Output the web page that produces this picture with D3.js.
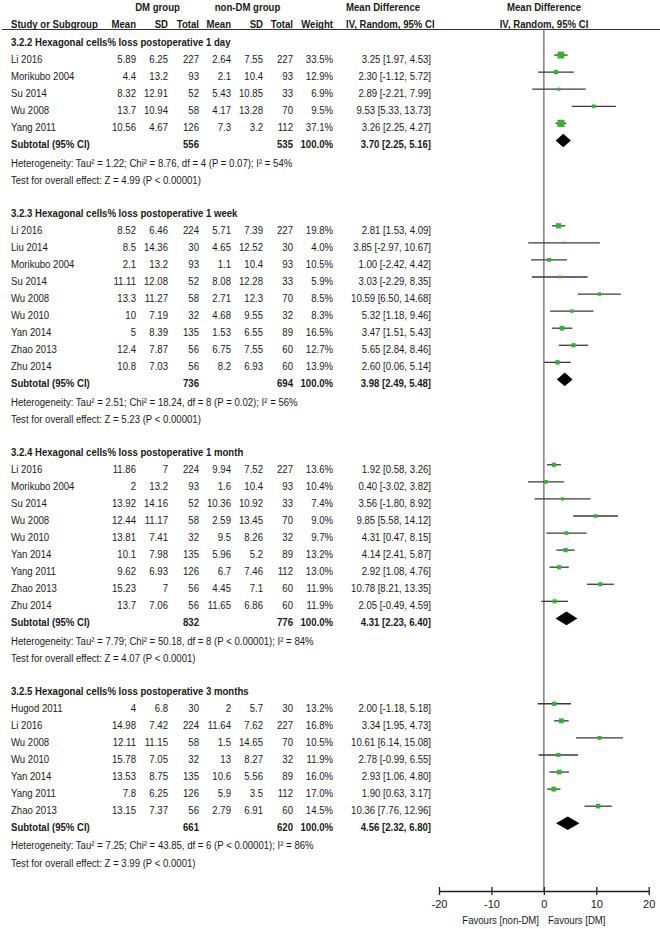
<!DOCTYPE html>
<html><head><meta charset="utf-8">
<script src="https://cdn.jsdelivr.net/npm/d3@7"></script>
<style>body{margin:0;background:#fff}text{font-family:"Liberation Sans",Arial,sans-serif;font-size:11px;fill:#1a1a1a}</style>
</head><body><svg id="c" width="660" height="929"></svg>
<script>
// ---------- data ----------
const subgroupTitles = [
  "3.2.2 Hexagonal cells% loss postoperative 1 day",
  "3.2.3 Hexagonal cells% loss postoperative 1 week",
  "3.2.4 Hexagonal cells% loss postoperative 1 month",
  "3.2.5 Hexagonal cells% loss postoperative 3 months"
];
const studyGroup = [0,0,0,0,0, 1,1,1,1,1,1,1,1,1, 2,2,2,2,2,2,2,2,2, 3,3,3,3,3,3,3];
const studyNames = [
  "Li 2016","Morikubo 2004","Su 2014","Wu 2008","Yang 2011",
  "Li 2016","Liu 2014","Morikubo 2004","Su 2014","Wu 2008","Wu 2010","Yan 2014","Zhao 2013","Zhu 2014",
  "Li 2016","Morikubo 2004","Su 2014","Wu 2008","Wu 2010","Yan 2014","Yang 2011","Zhao 2013","Zhu 2014",
  "Hugod 2011","Li 2016","Wu 2008","Wu 2010","Yan 2014","Yang 2011","Zhao 2013"
];
const dmMean  = [5.89,4.4,8.32,13.7,10.56, 8.52,8.5,2.1,11.11,13.3,10,5,12.4,10.8, 11.86,2,13.92,12.44,13.81,10.1,9.62,15.23,13.7, 4,14.98,12.11,15.78,13.53,7.8,13.15];
const dmSD    = [6.25,13.2,12.91,10.94,4.67, 6.46,14.36,13.2,12.08,11.27,7.19,8.39,7.87,7.03, 7,13.2,14.16,11.17,7.41,7.98,6.93,7,7.06, 6.8,7.42,11.15,7.05,8.75,6.25,7.37];
const dmTotal = [227,93,52,58,126, 224,30,93,52,58,32,135,56,56, 224,93,52,58,32,135,126,56,56, 30,224,58,32,135,126,56];
const nonMean = [2.64,2.1,5.43,4.17,7.3, 5.71,4.65,1.1,8.08,2.71,4.68,1.53,6.75,8.2, 9.94,1.6,10.36,2.59,9.5,5.96,6.7,4.45,11.65, 2,11.64,1.5,13,10.6,5.9,2.79];
const nonSD   = [7.55,10.4,10.85,13.28,3.2, 7.39,12.52,10.4,12.28,12.3,9.55,6.55,7.55,6.93, 7.52,10.4,10.92,13.45,8.26,5.2,7.46,7.1,6.86, 5.7,7.62,14.65,8.27,5.56,3.5,6.91];
const nonTotal= [227,93,33,70,112, 227,30,93,33,70,32,89,60,60, 227,93,33,70,32,89,112,60,60, 30,227,70,32,89,112,60];
const weights = [33.5,12.9,6.9,9.5,37.1, 19.8,4.0,10.5,5.9,8.5,8.3,16.5,12.7,13.9, 13.6,10.4,7.4,9.0,9.7,13.2,13.0,11.9,11.9, 13.2,16.8,10.5,11.9,16.0,17.0,14.5];
const mdEst   = [3.25,2.30,2.89,9.53,3.26, 2.81,3.85,1.00,3.03,10.59,5.32,3.47,5.65,2.60, 1.92,0.40,3.56,9.85,4.31,4.14,2.92,10.78,2.05, 2.00,3.34,10.61,2.78,2.93,1.90,10.36];
const mdLow   = [1.97,-1.12,-2.21,5.33,2.25, 1.53,-2.97,-2.42,-2.29,6.50,1.18,1.51,2.84,0.06, 0.58,-3.02,-1.80,5.58,0.47,2.41,1.08,8.21,-0.49, -1.18,1.95,6.14,-0.99,1.06,0.63,7.76];
const mdHigh  = [4.53,5.72,7.99,13.73,4.27, 4.09,10.67,4.42,8.35,14.68,9.46,5.43,8.46,5.14, 3.26,3.82,8.92,14.12,8.15,5.87,4.76,13.35,4.59, 5.18,4.73,15.08,6.55,4.80,3.17,12.96];

const subDMTotal  = [556,736,832,661];
const subNonTotal = [535,694,776,620];
const subMD   = [3.70,3.98,4.31,4.56];
const subLow  = [2.25,2.49,2.23,2.32];
const subHigh = [5.16,5.48,6.40,6.80];
const hetTau2 = ["1.22","2.51","7.79","7.25"];
const hetChi2 = ["8.76","18.24","50.18","43.85"];
const hetDf   = [4,8,8,6];
const hetP    = ["= 0.07","= 0.02","< 0.00001","< 0.00001"];
const hetI2   = [54,56,84,86];
const effZ    = ["4.99","5.23","4.07","3.99"];
const effP    = ["< 0.00001","< 0.00001","< 0.0001","< 0.0001"];
const axisTicks = [-20,-10,0,10,20];

// ---------- layout ----------
const svg = d3.select("#c");
const K = 0.872;
const x = d3.scaleLinear().domain([-20,20]).range([439,648.7]);
const boxSize = d3.scaleSqrt().domain([0,100]).range([0,11.8]);

const rows = [];
let slot = 0;
subgroupTitles.forEach((t,g)=>{
  rows.push({type:"title",g,slot:slot++});
  studyNames.forEach((n,i)=>{ if(studyGroup[i]===g) rows.push({type:"study",i,slot:slot++}); });
  rows.push({type:"sub",g,slot:slot++});
  rows.push({type:"het",g,slot:slot++});
  rows.push({type:"test",g,slot:slot++});
  slot++;
});
const y = d3.scaleLinear().domain([0,48]).range([42,861.4]);
const rowY = r => y(r.slot) + ((r.type==="het"||r.type==="test")?1.2:0);

function txt(xp, yc, s, anchor, bold){
  return svg.append("text")
    .attr("transform",`translate(${xp},${yc+3.9}) scale(${K},1)`)
    .attr("text-anchor",anchor||"start")
    .attr("font-weight",bold?"bold":null)
    .text(s);
}

// column positions
const COL = {name:11, dmMean:136, dmSD:168, dmTot:199, nMean:231, nSD:263, nTot:293, w:333, ci:431, ciHead:346};

// header
txt(157.5,7.5,"DM group","middle",true);
txt(247.5,7.5,"non-DM group","middle",true);
txt(COL.ciHead,7.5,"Mean Difference","start",true);
txt(544,7.5,"Mean Difference","middle",true);
txt(COL.name,24,"Study or Subgroup","start",true);
txt(COL.dmMean,24,"Mean","end",true);
txt(COL.dmSD,24,"SD","end",true);
txt(COL.dmTot,24,"Total","end",true);
txt(COL.nMean,24,"Mean","end",true);
txt(COL.nSD,24,"SD","end",true);
txt(COL.nTot,24,"Total","end",true);
txt(COL.w,24,"Weight","end",true);
txt(COL.ciHead,24,"IV, Random, 95% CI","start",true);
txt(544,24,"IV, Random, 95% CI","middle",true);

svg.append("line").attr("x1",2).attr("x2",660).attr("y1",29.5).attr("y2",29.5)
  .attr("stroke","#333").attr("stroke-width",1.2);

// zero line
svg.append("line").attr("x1",x(0)).attr("x2",x(0)).attr("y1",29.5).attr("y2",891)
  .attr("stroke","#808080").attr("stroke-width",1.5);

const fmt2 = v => v.toFixed(2);
const ciText = (m,l,h) => `${fmt2(m)} [${fmt2(l)}, ${fmt2(h)}]`;

rows.forEach(r=>{
  const c = rowY(r);
  if(r.type==="title"){
    txt(COL.name,c,subgroupTitles[r.g],"start",true);
  } else if(r.type==="study"){
    const i=r.i;
    txt(COL.name,c,studyNames[i]);
    txt(COL.dmMean,c,String(dmMean[i]),"end");
    txt(COL.dmSD,c,String(dmSD[i]),"end");
    txt(COL.dmTot,c,String(dmTotal[i]),"end");
    txt(COL.nMean,c,String(nonMean[i]),"end");
    txt(COL.nSD,c,String(nonSD[i]),"end");
    txt(COL.nTot,c,String(nonTotal[i]),"end");
    txt(COL.w,c,weights[i].toFixed(1)+"%","end");
    txt(COL.ci,c,ciText(mdEst[i],mdLow[i],mdHigh[i]),"end");
    const my = c-4;
    svg.append("line").attr("x1",x(mdLow[i])).attr("x2",x(mdHigh[i])).attr("y1",my).attr("y2",my)
      .attr("stroke","#3a3a3a").attr("stroke-width",1.3);
    const s = boxSize(weights[i]);
    svg.append("rect").attr("x",x(mdEst[i])-s/2).attr("y",my-s/2).attr("width",s).attr("height",s)
      .attr("fill","#33b233");
  } else if(r.type==="sub"){
    const g=r.g;
    txt(COL.name,c,"Subtotal (95% CI)","start",true);
    txt(COL.dmTot,c,String(subDMTotal[g]),"end",true);
    txt(COL.nTot,c,String(subNonTotal[g]),"end",true);
    txt(COL.w,c,"100.0%","end",true);
    txt(COL.ci,c,ciText(subMD[g],subLow[g],subHigh[g]),"end",true);
    const my=c-4, h=6.8;
    svg.append("path")
      .attr("d",`M${x(subLow[g])},${my}L${x(subMD[g])},${my-h}L${x(subHigh[g])},${my}L${x(subMD[g])},${my+h}Z`)
      .attr("fill","#000");
  } else if(r.type==="het"){
    const g=r.g;
    txt(COL.name,c,`Heterogeneity: Tau² = ${hetTau2[g]}; Chi² = ${hetChi2[g]}, df = ${hetDf[g]} (P ${hetP[g]}); I² = ${hetI2[g]}%`);
  } else if(r.type==="test"){
    const g=r.g;
    txt(COL.name,c,`Test for overall effect: Z = ${effZ[g]} (P ${effP[g]})`);
  }
});

// axis
const ax = svg.append("g").attr("transform","translate(0,891)")
  .call(d3.axisBottom(x).tickValues(axisTicks).tickFormat(d=>String(d)).tickSizeInner(4).tickSizeOuter(0).tickPadding(4.8));
ax.select(".domain").attr("stroke","#222").attr("stroke-width",1.3);
ax.selectAll(".tick line").attr("y1",-4).attr("y2",4).attr("stroke","#222").attr("stroke-width",1.3);
ax.selectAll(".tick text").attr("font-size",null).attr("font-family",null).attr("fill","#1a1a1a");
ax.attr("font-size",null).attr("font-family",null);

txt(539,920,"Favours [non-DM]","end");
txt(548,920,"Favours [DM]","start");
</script>
</body></html>
